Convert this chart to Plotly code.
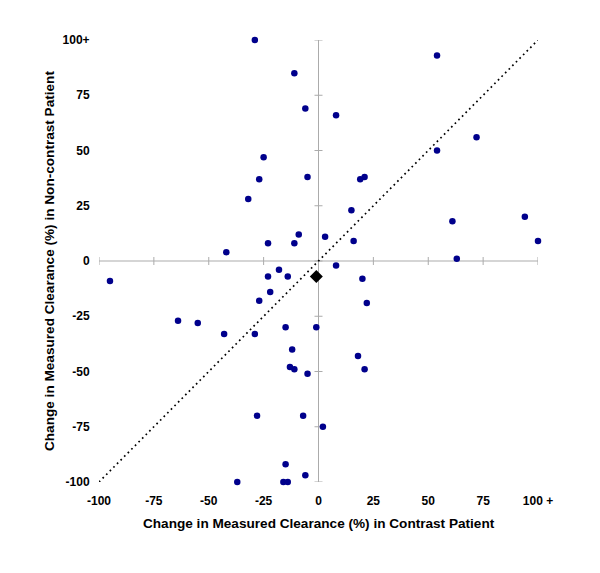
import plotly.graph_objects as go

# Change in measured clearance (%) — contrast patient (x) vs non-contrast patient (y)
contrast_x = [-29, -11, -6, -25, -27, -5, -32, -9, -23, -11, 3, -42, -18,
              54, 8, 72, 54, 19, 21, 15, 61, 94, 16, 100, 63, 8,
              -95, -23, -14, -22, -27, -64, -55, -43, -29, -15, -1, -12, -13, -11, -5,
              -28, -7, 2, -15, -6, -37, -16, -14,
              20, 22, 18, 21]
noncontrast_y = [100, 85, 69, 47, 37, 38, 28, 12, 8, 8, 11, 4, -4,
                 93, 66, 56, 50, 37, 38, 23, 18, 20, 9, 9, 1, -2,
                 -9, -7, -7, -14, -18, -27, -28, -33, -33, -30, -30, -40, -48, -49, -51,
                 -70, -70, -75, -92, -97, -100, -100, -100,
                 -8, -19, -43, -49]

mean_x = [-1]
mean_y = [-7]

identity = [-100, 100]

tick_vals = [-100, -75, -50, -25, 0, 25, 50, 75, 100]
x_tick_text = ["-100", "-75", "-50", "-25", "0", "25", "50", "75", "100 +"]
y_tick_text = ["-100", "-75", "-50", "-25", "0", "25", "50", "75", "100+"]

FONT = "Arial, Liberation Sans, sans-serif"
GRAY = "#ababab"

fig = go.Figure()

fig.add_trace(go.Scatter(
    x=identity, y=identity, mode="lines",
    line=dict(color="black", width=1.7, dash="1.7px,3.4px"),
    hoverinfo="skip", showlegend=False, cliponaxis=False))

fig.add_trace(go.Scatter(
    x=contrast_x, y=noncontrast_y, mode="markers",
    marker=dict(color="#00008C", size=6.5, line=dict(width=0)),
    showlegend=False, cliponaxis=False))

fig.add_trace(go.Scatter(
    x=mean_x, y=mean_y, mode="markers",
    marker=dict(color="black", symbol="diamond", size=10, line=dict(width=0)),
    showlegend=False, cliponaxis=False))

shapes = []
for v in tick_vals:
    shapes.append(dict(type="line", xref="x", yref="y", x0=v, x1=v,
                       ysizemode="pixel", yanchor=0, y0=-4, y1=4,
                       line=dict(color=GRAY, width=1), layer="below"))
    shapes.append(dict(type="line", xref="x", yref="y", y0=v, y1=v,
                       xsizemode="pixel", xanchor=0, x0=-4, x1=4,
                       line=dict(color=GRAY, width=1), layer="below"))
shapes.append(dict(type="line", xref="x", yref="y", x0=-100, x1=100, y0=0, y1=0,
                   line=dict(color=GRAY, width=1), layer="below"))
shapes.append(dict(type="line", xref="x", yref="y", x0=0, x1=0, y0=-100, y1=100,
                   line=dict(color=GRAY, width=1), layer="below"))

fig.update_layout(
    width=600, height=573,
    margin=dict(l=91, r=70, t=32, b=99),
    paper_bgcolor="white", plot_bgcolor="white",
    font=dict(family=FONT, color="black"),
    shapes=shapes,
    xaxis=dict(range=[-100, 100], showgrid=False, zeroline=False, showline=False,
               tickvals=tick_vals, ticktext=x_tick_text,
               ticks="outside", ticklen=8, tickcolor="rgba(0,0,0,0)",
               tickfont=dict(family=FONT, size=12, weight="bold", color="black")),
    yaxis=dict(range=[-100, 100], showgrid=False, zeroline=False, showline=False,
               tickvals=tick_vals, ticktext=y_tick_text,
               ticks="outside", ticklen=6, tickcolor="rgba(0,0,0,0)",
               tickfont=dict(family=FONT, size=12, weight="bold", color="black")),
    annotations=[
        dict(text="Change in Measured Clearance (%) in Contrast Patient",
             xref="paper", yref="paper", x=0.5, y=0, yshift=-41,
             xanchor="center", yanchor="middle", showarrow=False,
             font=dict(family=FONT, size=13.6, weight="bold", color="black")),
        dict(text="Change in Measured Clearance (%) in Non-contrast Patient",
             xref="paper", yref="paper", x=0, y=0.5, xshift=-50, textangle=-90,
             xanchor="center", yanchor="middle", showarrow=False,
             font=dict(family=FONT, size=13.6, weight="bold", color="black")),
    ],
)

fig.write_html("out.html")
